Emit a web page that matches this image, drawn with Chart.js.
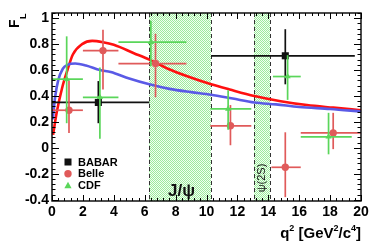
<!DOCTYPE html>
<html>
<head>
<meta charset="utf-8">
<script src="https://cdn.jsdelivr.net/npm/chart.js@4.4.1/dist/chart.umd.min.js"></script>
<style>
html, body { margin: 0; padding: 0; background: #fff; }
#wrap { width: 377px; height: 242px; }
</style>
</head>
<body>
<div id="wrap"><canvas id="c" width="377" height="242"></canvas></div>
<script>
// --- DATA ---
const redQ = [0.07, 0.3, 0.65, 1.0, 1.35, 1.95, 2.6, 3.3, 4.0, 5.3, 6.3, 7.5, 8.8, 10.3, 11.5, 13.1, 14.8, 16.5, 18.2, 20];
const redF = [0.10, 0.27, 0.46, 0.60, 0.72, 0.80, 0.825, 0.815, 0.795, 0.73, 0.68, 0.61, 0.55, 0.49, 0.45, 0.40, 0.36, 0.33, 0.31, 0.29];
const blueQ = [0.05, 0.2, 0.4, 0.7, 1.0, 1.5, 2.2, 3.1, 3.8, 5.0, 6.3, 7.6, 9.0, 10.3, 11.7, 13.1, 14.5, 16, 18, 20];
const blueF = [0.22, 0.39, 0.52, 0.61, 0.64, 0.65, 0.635, 0.60, 0.585, 0.535, 0.49, 0.455, 0.43, 0.41, 0.38, 0.35, 0.335, 0.315, 0.30, 0.28];

const babarQ = [3.0, 15.1];
const babarQLo = [0.0, 10.3];
const babarQHi = [6.3, 19.6];
const babarF = [0.35, 0.71];
const babarFLo = [0.19, 0.49];
const babarFHi = [0.515, 0.915];

const belleQ = [1.1, 3.3, 6.7, 11.55, 15.1, 18.2];
const belleQLo = [0.0, 2.0, 4.3, 10.25, 14.2, 16.1];
const belleQHi = [2.0, 4.3, 8.7, 12.9, 16.1, 20];
const belleF = [0.29, 0.75, 0.65, 0.17, -0.15, 0.115];
const belleFLo = [0.115, 0.45, 0.39, 0.02, -0.38, -0.01];
const belleFHi = [0.52, 0.91, 0.88, 0.33, 0.12, 0.27];

const cdfQ = [0.95, 3.1, 6.4, 11.4, 15.25, 17.9];
const cdfQLo = [0.0, 2.0, 4.3, 10.25, 14.3, 16.1];
const cdfQHi = [2.0, 4.3, 8.7, 12.9, 16.1, 19.4];
const cdfF = [0.53, 0.39, 0.815, 0.30, 0.55, 0.085];
const cdfFLo = [0.19, 0.07, 0.63, 0.14, 0.37, -0.05];
const cdfFHi = [0.86, 0.62, 0.98, 0.445, 0.715, 0.27];

const vetoLo = [6.3, 13.1];
const vetoHi = [10.3, 14.1];
const vetoNames = ['J/\u03c8', '\u03c8(2S)'];

const xTicks = [0, 2, 4, 6, 8, 10, 12, 14, 16, 18, 20];
const yTicks = [-0.4, -0.2, 0, 0.2, 0.4, 0.6, 0.8, 1];
const yTickLabels = ['-0.4', '-0.2', '0', '0.2', '0.4', '0.6', '0.8', '1'];

const FONT = '"Liberation Sans", Arial, sans-serif';
const RED = '#e05a5a';
const GREEN = '#5ad65a';
const BLACK = '#111111';

function pts(xs, ys) {
    return xs.map((x, i) => ({ x: x, y: ys[i] }));
}

function checker(ctx) {
    const p = document.createElement('canvas');
    p.width = 2;
    p.height = 2;
    const g = p.getContext('2d');
    g.fillStyle = '#f2fff2';
    g.fillRect(0, 0, 2, 2);
    g.fillStyle = '#9eea9e';
    g.fillRect(0, 0, 1, 1);
    g.fillRect(1, 1, 1, 1);
    return ctx.createPattern(p, 'repeat');
}

function line(ctx, x1, y1, x2, y2) {
    ctx.beginPath();
    ctx.moveTo(x1, y1);
    ctx.lineTo(x2, y2);
    ctx.stroke();
}

// vetoed q2 regions drawn under the data
const vetoPlugin = {
    id: 'veto',
    beforeDatasetsDraw(chart) {
        const ctx = chart.ctx, a = chart.chartArea;
        const xs = chart.scales.x;
        ctx.save();
        const pat = checker(ctx);
        vetoLo.forEach((lo, i) => {
            const x1 = Math.round(xs.getPixelForValue(lo)), x2 = Math.round(xs.getPixelForValue(vetoHi[i]));
            ctx.fillStyle = pat;
            ctx.fillRect(x1, Math.round(a.top), x2 - x1, Math.round(a.bottom - a.top));
            ctx.strokeStyle = '#333';
            ctx.lineWidth = 1;
            ctx.setLineDash([4, 3]);
            line(ctx, x1 + 0.5, a.top, x1 + 0.5, a.bottom);
            line(ctx, x2 + 0.5, a.top, x2 + 0.5, a.bottom);
        });
        ctx.setLineDash([]);
        ctx.fillStyle = '#111';
        // J/psi label
        ctx.font = 'bold 17px ' + FONT;
        ctx.textAlign = 'left';
        ctx.textBaseline = 'alphabetic';
        ctx.fillText(vetoNames[0], 168, 196);
        // psi(2S) label, vertical
        const cx = (xs.getPixelForValue(vetoLo[1]) + xs.getPixelForValue(vetoHi[1])) / 2;
        ctx.translate(cx, 178);
        ctx.rotate(-Math.PI / 2);
        ctx.font = '11px ' + FONT;
        ctx.textAlign = 'center';
        ctx.textBaseline = 'middle';
        ctx.fillText(vetoNames[1], 0, 0);
        ctx.restore();
    }
};

// error bars drawn right before each marker set
const errPlugin = {
    id: 'errs',
    beforeDatasetDraw(chart, args) {
        const ds = chart.data.datasets[args.index];
        if (!ds.err) return;
        const ctx = chart.ctx;
        const xs = chart.scales.x, ys = chart.scales.y;
        const e = ds.err;
        ctx.save();
        ctx.strokeStyle = ds.barColor;
        ctx.lineWidth = 1.7;
        ds.data.forEach((p, i) => {
            const px = xs.getPixelForValue(p.x), py = ys.getPixelForValue(p.y);
            line(ctx, xs.getPixelForValue(e.qLo[i]), py, xs.getPixelForValue(e.qHi[i]), py);
            line(ctx, px, ys.getPixelForValue(e.fLo[i]), px, ys.getPixelForValue(e.fHi[i]));
        });
        ctx.restore();
    }
};

// ROOT style frame, inward ticks, labels and legend
const framePlugin = {
    id: 'frame',
    afterDraw(chart) {
        const ctx = chart.ctx, a = chart.chartArea;
        const xs = chart.scales.x, ys = chart.scales.y;
        ctx.save();
        ctx.strokeStyle = '#000';
        ctx.lineWidth = 1.4;
        ctx.strokeRect(a.left, a.top, a.right - a.left, a.bottom - a.top);
        ctx.lineWidth = 1;
        for (let i = 0; i <= 50; i++) {
            const px = Math.round(xs.getPixelForValue(i * 0.4)) + 0.5;
            const len = i % 5 === 0 ? 6 : 3;
            line(ctx, px, a.bottom, px, a.bottom - len);
            line(ctx, px, a.top, px, a.top + len);
        }
        for (let i = 0; -0.4 + i * 0.04 <= ys.max + 1e-9; i++) {
            const py = Math.round(ys.getPixelForValue(-0.4 + i * 0.04)) + 0.5;
            const len = i % 5 === 0 ? 7 : 3.5;
            line(ctx, a.left, py, a.left + len, py);
            line(ctx, a.right, py, a.right - len, py);
        }

        ctx.fillStyle = '#000';
        ctx.font = 'bold 14px ' + FONT;
        ctx.textAlign = 'center';
        ctx.textBaseline = 'middle';
        xTicks.forEach((v) => ctx.fillText(String(v), xs.getPixelForValue(v), 212));
        ctx.textAlign = 'right';
        yTicks.forEach((v, i) => ctx.fillText(yTickLabels[i], a.left - 3, ys.getPixelForValue(v)));

        // x title q^2 [GeV^2/c^4]
        const parts = [['q', 0], ['2', 1], [' [GeV', 0], ['2', 1], ['/c', 0], ['4', 1], [']', 0]];
        const big = 'bold 15px ' + FONT, small = 'bold 9px ' + FONT;
        let w = 0;
        parts.forEach((p) => { ctx.font = p[1] ? small : big; w += ctx.measureText(p[0]).width; });
        let x = a.right - w;
        ctx.textAlign = 'left';
        ctx.textBaseline = 'alphabetic';
        parts.forEach((p) => {
            ctx.font = p[1] ? small : big;
            ctx.fillText(p[0], x, p[1] ? 231 : 238);
            x += ctx.measureText(p[0]).width;
        });

        // y title F_L, rotated
        ctx.save();
        ctx.translate(19, 28);
        ctx.rotate(-Math.PI / 2);
        ctx.font = 'bold 14px ' + FONT;
        ctx.fillText('F', 0, 0);
        ctx.font = 'bold 9px ' + FONT;
        ctx.fillText('L', 9, 7);
        ctx.restore();

        // legend
        const lx = 68;
        const rows = [['BABAR', BLACK, 'rect'], ['Belle', RED, 'circle'], ['CDF', GREEN, 'triangle']];
        ctx.font = 'bold 11px ' + FONT;
        ctx.textBaseline = 'middle';
        rows.forEach((r, i) => {
            const ly = 162 + i * 11.8;
            ctx.fillStyle = r[1];
            if (r[2] === 'rect') ctx.fillRect(lx - 3.5, ly - 3.5, 7, 7);
            else if (r[2] === 'circle') { ctx.beginPath(); ctx.arc(lx, ly, 3.7, 0, Math.PI * 2); ctx.fill(); }
            else { ctx.beginPath(); ctx.moveTo(lx, ly - 3.8); ctx.lineTo(lx + 3.6, ly + 2.6); ctx.lineTo(lx - 3.6, ly + 2.6); ctx.closePath(); ctx.fill(); }
            ctx.fillStyle = '#000';
            ctx.fillText(r[0], lx + 10, ly + 0.5);
        });
        ctx.restore();
    }
};

new Chart(document.getElementById('c'), {
    type: 'scatter',
    data: {
        datasets: [
            {
                label: 'CDF',
                data: pts(cdfQ, cdfF),
                err: { qLo: cdfQLo, qHi: cdfQHi, fLo: cdfFLo, fHi: cdfFHi },
                barColor: GREEN,
                pointStyle: 'triangle',
                pointRadius: 3.6,
                backgroundColor: GREEN,
                borderWidth: 0,
                order: 0,
            },
            {
                label: 'Belle',
                data: pts(belleQ, belleF),
                err: { qLo: belleQLo, qHi: belleQHi, fLo: belleFLo, fHi: belleFHi },
                barColor: RED,
                pointStyle: 'circle',
                pointRadius: 3.7,
                backgroundColor: RED,
                borderWidth: 0,
                order: 1,
            },
            {
                label: 'BABAR',
                data: pts(babarQ, babarF),
                err: { qLo: babarQLo, qHi: babarQHi, fLo: babarFLo, fHi: babarFHi },
                barColor: BLACK,
                pointStyle: 'rect',
                pointRadius: 5,
                backgroundColor: BLACK,
                borderWidth: 0,
                order: 2,
            },
            {
                label: 'blue',
                data: pts(blueQ, blueF),
                showLine: true,
                borderColor: '#5a5ae6',
                borderWidth: 2.6,
                pointRadius: 0,
                cubicInterpolationMode: 'monotone',
                order: 3,
            },
            {
                label: 'red',
                data: pts(redQ, redF),
                showLine: true,
                borderColor: '#ff1010',
                borderWidth: 2.6,
                pointRadius: 0,
                cubicInterpolationMode: 'monotone',
                order: 4,
            },
        ],
    },
    options: {
        responsive: false,
        devicePixelRatio: 1,
        animation: false,
        layout: { padding: { left: 52, right: 16, top: 13, bottom: 41 } },
        scales: {
            x: { type: 'linear', min: 0, max: 20, display: false },
            y: { type: 'linear', min: -0.41, max: 1.04, display: false },
        },
        plugins: {
            legend: { display: false },
            tooltip: { enabled: false },
        },
    },
    plugins: [vetoPlugin, errPlugin, framePlugin],
});
</script>
</body>
</html>
